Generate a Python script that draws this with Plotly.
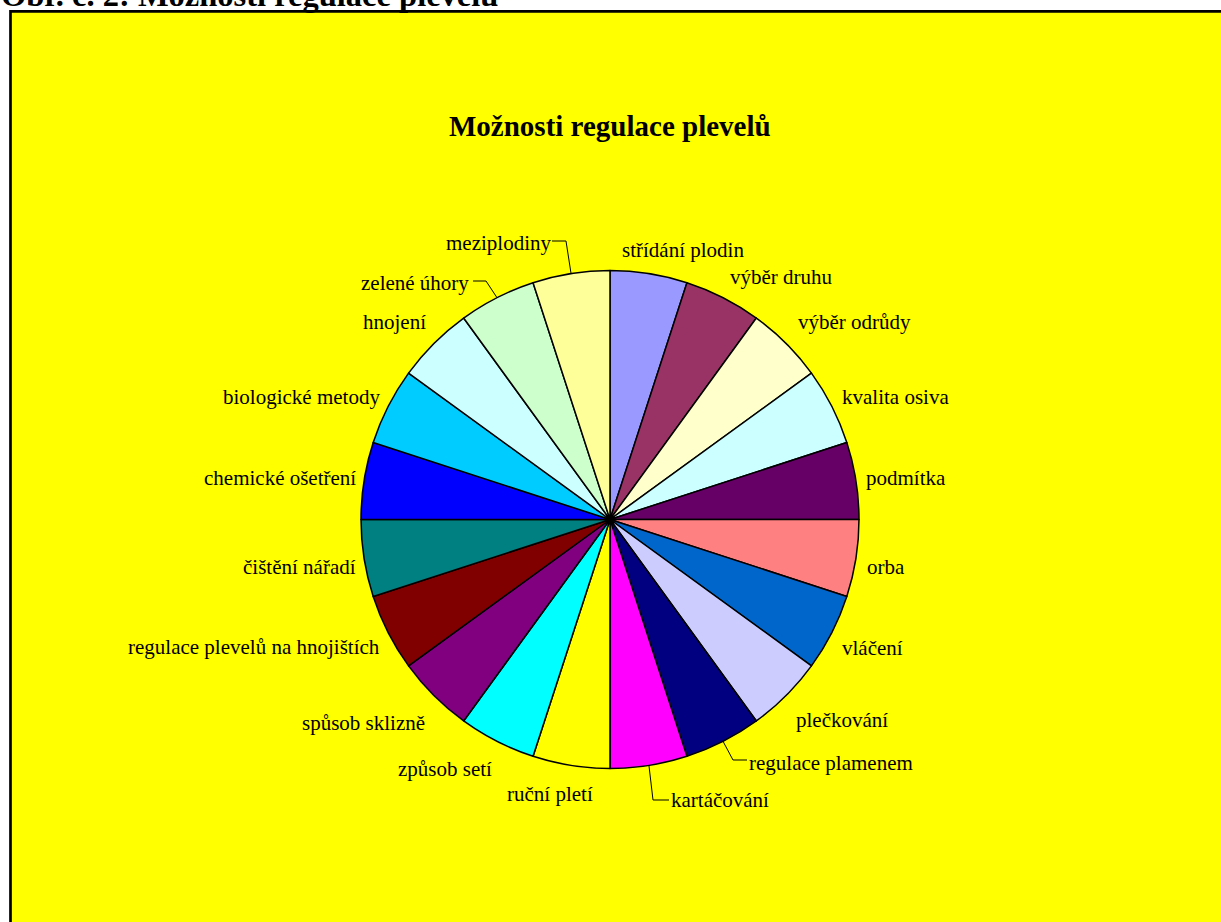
import math
import plotly.graph_objects as go

W, H = 1221, 922

labels = ["střídání plodin", "výběr druhu", "výběr odrůdy", "kvalita osiva", "podmítka",
          "orba", "vláčení", "plečkování", "regulace plamenem", "kartáčování",
          "ruční pletí", "způsob setí", "spůsob sklizně", "regulace plevelů na hnojištích",
          "čištění nářadí", "chemické ošetření", "biologické metody", "hnojení",
          "zelené úhory", "meziplodiny"]
values = [1] * 20
colors = ["#9999FF", "#993366", "#FFFFCC", "#CCFFFF", "#660066",
          "#FF8080", "#0066CC", "#CCCCFF", "#000080", "#FF00FF",
          "#FFFF00", "#00FFFF", "#800080", "#800000", "#008080",
          "#0000FF", "#00CCFF", "#CCFFFF", "#CCFFCC", "#FFFF99"]

# label placement (pixel centres)
label_pos = [(683, 250), (781, 277), (854, 322), (895, 397), (906, 478),
             (886, 567), (872, 648), (842, 720), (831, 763), (720, 800),
             (550, 794), (445, 769), (363, 723), (254, 647),
             (299, 567), (280, 478), (301, 397), (394, 322),
             (415, 283), (498, 243)]

cx, cy, r = 610, 519.5, 249


def px(x):
    return x / W


def py(y):
    return 1 - y / H


fig = go.Figure(go.Pie(
    labels=labels, values=values, sort=False, direction="clockwise", rotation=0,
    marker=dict(colors=colors, line=dict(color="black", width=1.5)),
    textinfo="none", hoverinfo="label", showlegend=False,
    domain=dict(x=[px(cx - r), px(cx + r)], y=[py(cy + r), py(cy - r)]),
))

annotations = []
for lab, (x, y) in zip(labels, label_pos):
    annotations.append(dict(x=px(x), y=py(y), xref="paper", yref="paper", text=lab,
                            showarrow=False, xanchor="center", yanchor="middle",
                            font=dict(family="Liberation Serif", size=21, color="black")))

annotations.append(dict(x=px(609.5), y=py(126), xref="paper", yref="paper",
                        text="<b>Možnosti regulace plevelů</b>", showarrow=False,
                        xanchor="center", yanchor="middle",
                        font=dict(family="Liberation Serif", size=29, color="black")))
annotations.append(dict(x=px(-1), y=py(-5), xref="paper", yref="paper",
                        text="<b>Obr. č. 2: Možnosti regulace plevelů</b>", showarrow=False,
                        xanchor="left", yanchor="middle",
                        font=dict(family="Liberation Serif", size=32.5, color="black")))

shapes = [dict(type="rect", xref="paper", yref="paper", x0=px(10.5), y0=py(H + 20),
               x1=px(W + 20), y1=py(11.3), fillcolor="#FFFF00",
               line=dict(color="black", width=2.7), layer="below")]

# leader lines
leaders = {19: [(552, 241), (566, 241)], 18: [(473, 281), (486, 281)],
           8: [(747, 760), (733, 760)], 9: [(669, 800), (653, 800)]}
for i, pts in leaders.items():
    ang = math.radians(90 - 18 * (i + 0.5))
    ex, ey = cx + r * math.cos(ang), cy - r * math.sin(ang)
    allp = pts + [(ex, ey)]
    path = "M " + " L ".join(f"{px(a)},{py(b)}" for a, b in allp)
    shapes.append(dict(type="path", xref="paper", yref="paper", path=path,
                       line=dict(color="black", width=1)))

fig.update_layout(width=W, height=H, margin=dict(l=0, r=0, t=0, b=0),
                  paper_bgcolor="white", plot_bgcolor="white",
                  annotations=annotations, shapes=shapes)
fig.write_html("out.html", config={"displayModeBar": False},
               post_script="document.body.style.margin='0';document.body.style.overflow='hidden';")
